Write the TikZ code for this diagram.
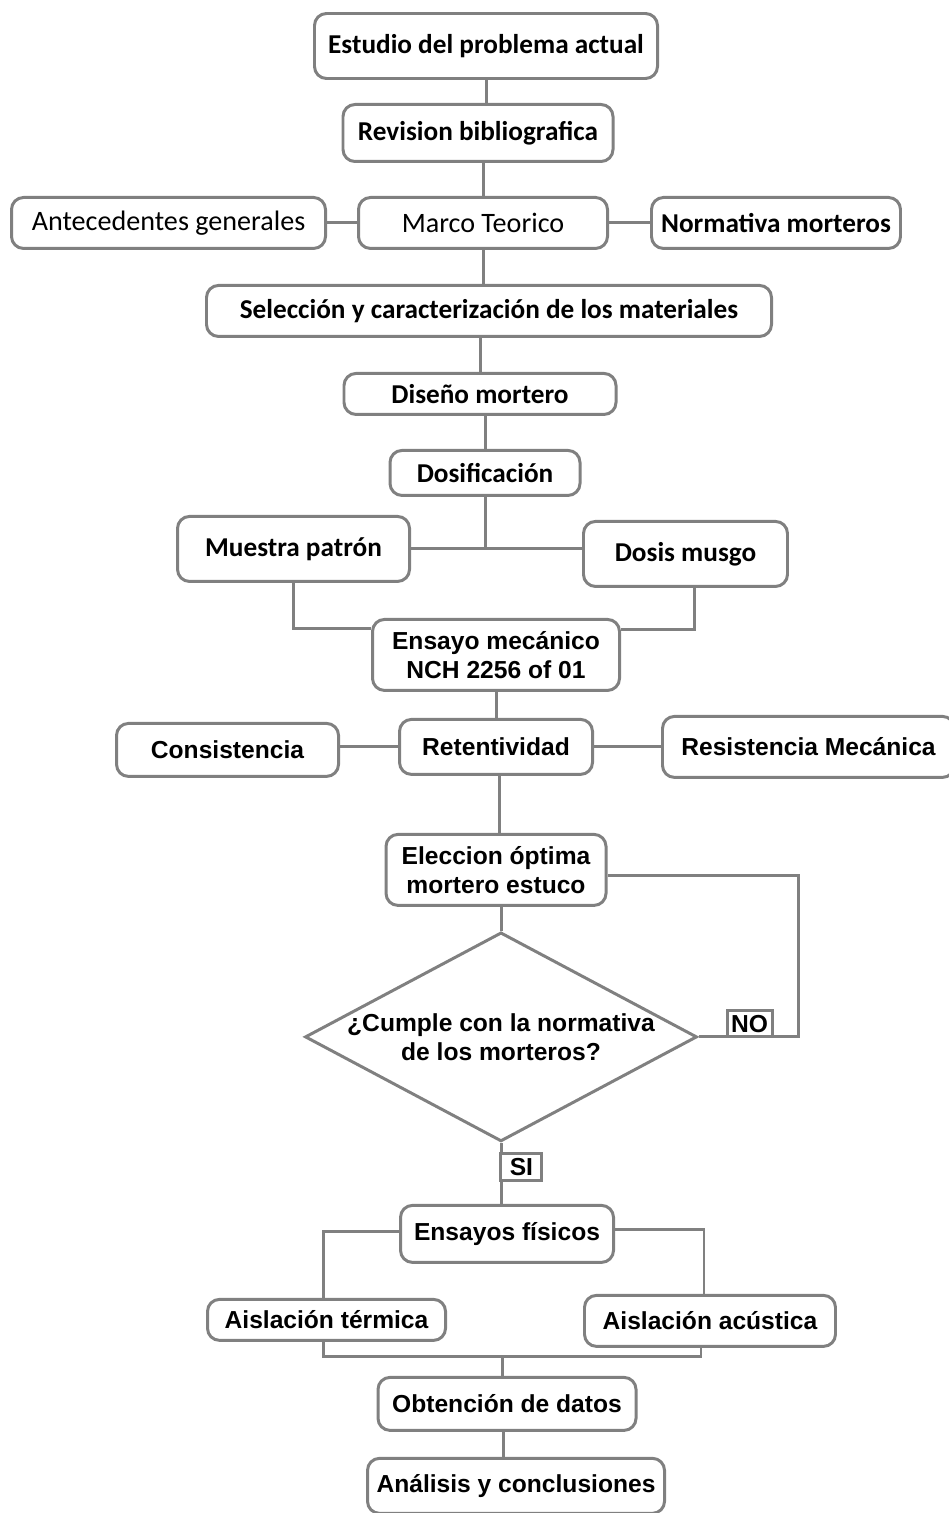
\documentclass[tikz,border=0pt]{standalone}
\usepackage{fontspec}
\setmainfont{Liberation Sans}
\newfontfamily\carlito{Carlito}
\usetikzlibrary{positioning,shapes.geometric}
\definecolor{linegray}{RGB}{128,128,128}
\tikzset{mynode/.style={draw=linegray,line width=1.7pt,rounded corners=0.24cm,align=center,inner sep=2pt,font=\fontsize{14}{16.5}\selectfont\bfseries},
cnode/.style={mynode,font=\fontsize{15.5}{18}\selectfont\carlito\bfseries},
cthin/.style={mynode,font=\fontsize{16}{18}\selectfont\carlito},
mylink/.style={draw=linegray,line width=1.7pt},
mylabel/.style={draw=linegray,line width=1.7pt,fill=white,inner sep=1pt,font=\fontsize{14}{16}\selectfont\bfseries}
}

\begin{document}
\begin{tikzpicture}
  \useasboundingbox (0,0) rectangle (18.96,-30.26);

  % Marco teorico
    \node[cnode, minimum width=6.86cm, minimum height=1.3cm] (est) at (9.72,-0.92) {Estudio del problema actual};
    \node[cnode, minimum width=5.4cm, minimum height=1.14cm, below = 0.46cm of est, xshift=-0.16cm] (rev) {Revision bibliografica};
    \node[cthin, minimum width=4.98cm, minimum height=1.02cm, below = 0.66cm of rev, xshift=0.1cm] (mar) {Marco Teorico};
    \node[cthin, minimum width=6.28cm, minimum height=1.02cm, left = 0.6cm of mar] (ant) {Antecedentes generales};
    \node[cnode, minimum width=4.98cm, minimum height=1.02cm, right = 0.82cm of mar] (nor) {Normativa morteros};

    % Materiales y diseno
    \node[cnode, minimum width=11.3cm, minimum height=1.02cm, below = 0.68cm of mar, xshift=0.12cm] (sel) {Selección y caracterización de los materiales};
    \node[cnode, minimum width=5.44cm, minimum height=0.82cm, below = 0.68cm of sel, xshift=-0.18cm] (dis) {Diseño mortero};
    \node[cnode, minimum width=3.8cm, minimum height=0.9cm, below = 0.66cm of dis, xshift=0.1cm] (dos) {Dosificación};

    % Ensayo mecanico
    \node[mynode, minimum width=4.94cm, minimum height=1.42cm, below = 2.42cm of dos, xshift=0.22cm] (ens) {Ensayo mecánico\\NCH 2256 of 01};
    \node[cnode, minimum width=4.64cm, minimum height=1.3cm, above left = 0.7cm and -0.8cm of ens] (mue) {Muestra patrón};
    \node[cnode, minimum width=4.08cm, minimum height=1.3cm, above right = 0.6cm and -0.78cm of ens] (dsm) {Dosis musgo};
    \node[mynode, minimum width=3.86cm, minimum height=1.1cm, below = 0.52cm of ens] (ret) {Retentividad};
    \node[mynode, minimum width=4.44cm, minimum height=1.06cm, left = 1.16cm of ret, yshift=-0.06cm] (con) {Consistencia};
    \node[mynode, minimum width=5.84cm, minimum height=1.22cm, right = 1.34cm of ret] (res) {Resistencia Mecánica};

    % Eleccion
    \node[mynode, minimum width=4.4cm, minimum height=1.42cm, below = 1.14cm of ret] (ele) {Eleccion óptima\\mortero estuco};
    \node[draw=linegray, line width=1.7pt, diamond, aspect=1.86, minimum width=7.84cm, minimum height=4.18cm, inner sep=-4pt, align=center, font=\fontsize{14}{16.5}\selectfont\bfseries, below = 0.48cm of ele, xshift=0.1cm] (dec) {¿Cumple con la normativa\\de los morteros?};

    % Ensayos fisicos
    \node[mynode, minimum width=4.26cm, minimum height=1.14cm, below = 1.22cm of dec, xshift=0.12cm] (fis) {Ensayos físicos};
    \node[mynode, minimum width=4.76cm, minimum height=0.82cm, below left = 0.68cm and -0.96cm of fis] (ter) {Aislación térmica};
    \node[mynode, minimum width=5.02cm, minimum height=1.02cm, below right = 0.6cm and -0.64cm of fis] (acu) {Aislación acústica};
    \node[mynode, minimum width=5.16cm, minimum height=1.06cm, below = 2.24cm of fis] (obt) {Obtención de datos};
    \node[mynode, minimum width=5.94cm, minimum height=1.1cm, below = 0.5cm of obt, xshift=0.18cm] (ana) {Análisis y conclusiones};

    % Marco teorico links
    \draw[mylink] (est.south) -- (est.south |- rev.north);
    \draw[mylink] (mar.north) -- (mar.north |- rev.south);
    \draw[mylink] (ant.east) -- (ant.east -| mar.west);
    \draw[mylink] (mar.east) -- (mar.east -| nor.west);
    \draw[mylink] (mar.south) -- (mar.south |- sel.north);
    \draw[mylink] (dis.north) -- (dis.north |- sel.south);
    \draw[mylink] (dos.north) -- (dos.north |- dis.south);

    % Dosis links
    \draw[mylink] (dos.south) -- (dos.south |- mue.east);
    \draw[mylink] (mue.east) -- (mue.east -| dsm.west);
    \draw[mylink] (mue.south) |- ([yshift=0.52cm]ens.west);
    \draw[mylink] ([xshift=0.18cm]dsm.south) |- ([yshift=0.5cm]ens.east);

    % Ensayo mecanico links
    \draw[mylink] (ens.south) -- (ret.north);
    \draw[mylink] (ret.west) -- (ret.west -| con.east);
    \draw[mylink] (ret.east) -- (res.west);
    \draw[mylink] ([xshift=0.06cm]ret.south) -- ([xshift=0.06cm]ret.south |- ele.north);
    \draw[mylink] (dec.north) -- (dec.north |- ele.south);

    % Decision links
    \draw[mylink] (dec.east) -- node[mylabel, pos=0.51, above=-0.9pt, minimum width=0.9cm, minimum height=0.52cm] (no) {NO} ++(2,0) |- ([yshift=-0.12cm]ele.east);
    \draw[mylink] (dec.south) -- node[mylabel, pos=0.39, right=-0.9pt, minimum width=0.82cm, minimum height=0.54cm] (si) {SI} (dec.south |- fis.north);

    % Ensayos fisicos links
    \draw[mylink] ([yshift=0.04cm]fis.west) -| ([xshift=-0.06cm]ter.north);
    \draw[mylink] ([yshift=0.08cm]fis.east) -| ([xshift=-0.12cm]acu.north);
    \draw[mylink] ([xshift=-0.06cm]ter.south) -- ++(0,-0.3) coordinate (jn) -| ([xshift=-0.18cm]acu.south);
    \draw[mylink] ([xshift=-0.1cm]obt.north |- jn) -- ([xshift=-0.1cm]obt.north);
    \draw[mylink] ([xshift=-0.08cm]obt.south) -- ([xshift=-0.08cm]obt.south |- ana.north);

  \end{tikzpicture}
\end{document}
